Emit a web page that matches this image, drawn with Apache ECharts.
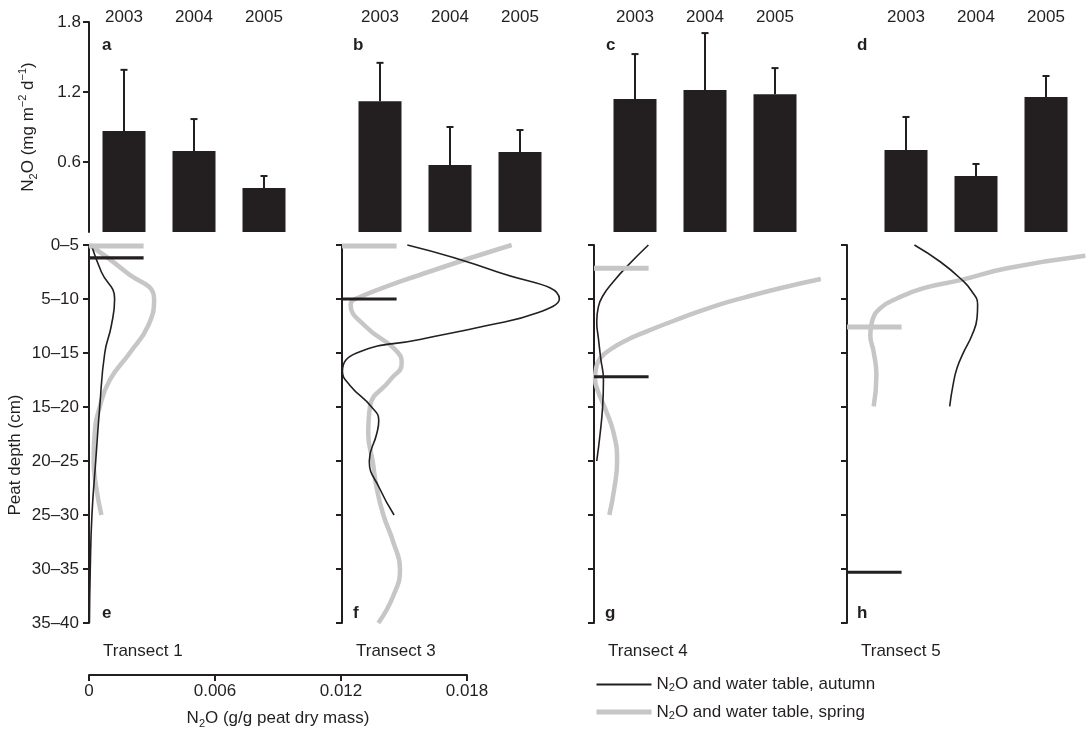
<!DOCTYPE html>
<html><head><meta charset="utf-8">
<script src="https://cdn.jsdelivr.net/npm/echarts@6/dist/echarts.min.js"></script>
<style>html,body{margin:0;padding:0;background:#fff}#c{width:1089px;height:733px}</style>
</head><body><div id="c"></div>
<script>
// ---------- data ----------
const years = ['2003', '2004', '2005'];
const fluxMeanT1 = [0.866, 0.694, 0.377];
const fluxUpperT1 = [1.39, 0.968, 0.48];
const fluxMeanT3 = [1.12, 0.574, 0.686];
const fluxUpperT3 = [1.45, 0.90, 0.874];
const fluxMeanT4 = [1.14, 1.217, 1.18];
const fluxUpperT4 = [1.525, 1.705, 1.405];
const fluxMeanT5 = [0.703, 0.48, 1.157];
const fluxUpperT5 = [0.986, 0.583, 1.337];
const fluxTicks = [0.6, 1.2, 1.8];

const depthLabels = ['0–5', '5–10', '10–15', '15–20', '20–25', '25–30', '30–35', '35–40'];
const n2oTicks = [0, 0.006, 0.012, 0.018];

// depth positions are in depth-class index units (0 = "0–5", 7 = "35–40")
const t1AutumnDepth = [0, 0.5, 1, 1.5, 2, 3, 4, 5, 6, 7];
const t1AutumnN2O = [0.00011, 0.00059, 0.00122, 0.00106, 0.00075, 0.00051, 0.00032, 0.00014, 0.00006, 0.00002];
const t1SpringDepth = [0, 0.5, 1, 1.5, 2, 2.5, 3, 3.5, 4, 4.5, 5];
const t1SpringN2O = [0.00003, 0.00176, 0.00310, 0.00281, 0.00194, 0.00099, 0.00051, 0.00027, 0.00022, 0.00035, 0.00059];

const t3AutumnDepth = [0, 0.5, 1, 1.25, 1.5, 1.75, 2, 2.34, 2.6, 3, 3.25, 3.5, 4, 4.5, 5];
const t3AutumnN2O = [0.00311, 0.00741, 0.01035, 0.00935, 0.0068, 0.00371, 0.0007, 0.00002, 0.00038, 0.00141, 0.00175, 0.00165, 0.0013, 0.00178, 0.00248];
const t3SpringDepth = [0, 0.5, 1, 1.1, 1.5, 2, 2.2, 2.5, 3, 3.5, 4, 4.5, 5, 5.5, 6, 6.5, 7];
const t3SpringN2O = [0.00808, 0.00411, 0.00062, 0.00041, 0.0011, 0.00268, 0.00284, 0.00229, 0.00133, 0.00125, 0.00146, 0.00165, 0.00197, 0.00244, 0.00276, 0.00244, 0.00173];

const t4AutumnDepth = [0, 0.4, 0.68, 0.93, 1.14, 1.42, 1.73, 2.1, 2.5, 3, 3.5, 4];
const t4AutumnN2O = [0.00259, 0.00156, 0.00092, 0.00044, 0.00021, 0.00013, 0.00021, 0.00032, 0.00045, 0.00041, 0.00029, 0.00013];
const t4SpringDepth = [0.63, 0.8, 0.96, 1.14, 1.36, 1.6, 1.79, 1.94, 2.1, 2.28, 2.47, 2.72, 3.02, 3.46, 4, 4.5, 5];
const t4SpringN2O = [0.0108, 0.00886, 0.00727, 0.00568, 0.0041, 0.00251, 0.0014, 0.00076, 0.00029, 0.0001, 0.00005, 0.0002, 0.00052, 0.00092, 0.0011, 0.00097, 0.00073];

const t5AutumnDepth = [0, 0.31, 0.62, 0.86, 1.11, 1.36, 1.67, 1.98, 2.28, 2.59, 2.99];
const t5AutumnN2O = [0.00321, 0.00444, 0.0054, 0.00595, 0.00622, 0.00619, 0.00595, 0.00556, 0.00524, 0.00505, 0.00489];
const t5SpringDepth = [0.2, 0.43, 0.65, 0.8, 0.99, 1.17, 1.42, 1.67, 1.98, 2.41, 2.99];
const t5SpringN2O = [0.01135, 0.00762, 0.0054, 0.00365, 0.00238, 0.00159, 0.00119, 0.00111, 0.00127, 0.0014, 0.00127];

const waterTableAutumn = [0.24, 1.0, 2.44, 6.06];
const waterTableSpring = [0.02, 0.02, 0.43, 1.52];

const transects = ['Transect 1', 'Transect 3', 'Transect 4', 'Transect 5'];
const topLetters = ['a', 'b', 'c', 'd'];
const bottomLetters = ['e', 'f', 'g', 'h'];

// ---------- layout / style ----------
const INK = '#231f20';
const GREY = '#c6c6c6';
const FONT = 'Liberation Sans';
const FS = 17;
const PX_PER_UNIT = 21000;       // horizontal scale of the profile panels
const WT_LEN = 0.0026;           // length of the water-table marker
const AUT = 'N2O and water table, autumn';
const SPR = 'N2O and water table, spring';

const topLefts = [89, 345, 600, 871];
const topWidth = 210;
const botLefts = [89, 342, 594, 847];
const botWidths = [250, 250, 250, 240];

const fluxMeans = [fluxMeanT1, fluxMeanT3, fluxMeanT4, fluxMeanT5];
const fluxUppers = [fluxUpperT1, fluxUpperT3, fluxUpperT4, fluxUpperT5];
const autumnProfiles = [[t1AutumnDepth, t1AutumnN2O], [t3AutumnDepth, t3AutumnN2O], [t4AutumnDepth, t4AutumnN2O], [t5AutumnDepth, t5AutumnN2O]];
const springProfiles = [[t1SpringDepth, t1SpringN2O], [t3SpringDepth, t3SpringN2O], [t4SpringDepth, t4SpringN2O], [t5SpringDepth, t5SpringN2O]];

function richSet(lh) {
  return {
    n: { fontSize: FS, fontFamily: FONT, color: INK, lineHeight: lh },
    sub: { fontSize: 11, fontFamily: FONT, color: INK, lineHeight: lh, verticalAlign: 'bottom' },
    sup: { fontSize: 11, fontFamily: FONT, color: INK, lineHeight: lh, verticalAlign: 'top' }
  };
}

const grid = [], xAxis = [], yAxis = [], series = [];

// top bar panels (grid 0..3)
for (let p = 0; p < 4; p++) {
  grid.push({ left: topLefts[p], width: topWidth, top: 22, height: 210 });
  xAxis.push({
    type: 'category', gridIndex: p, data: years, position: 'top',
    axisLine: { show: false }, axisTick: { show: false },
    axisLabel: { fontSize: FS, fontFamily: FONT, color: INK, margin: -4 }
  });
  yAxis.push({
    type: 'value', gridIndex: p, min: 0, max: 1.8, interval: 0.6, show: p === 0,
    splitLine: { show: false },
    axisLine: { show: true, onZero: false, lineStyle: { color: INK, width: 2 } },
    axisTick: { show: true, length: 6, customValues: fluxTicks, lineStyle: { color: INK, width: 2 } },
    axisLabel: { customValues: fluxTicks, fontSize: FS, fontFamily: FONT, color: INK, margin: 8,
      formatter: v => v.toFixed(1) },
    name: '{n|N}{sub|2}{n|O (mg m}{sup|−2}{n| d}{sup|−1}{n|)}',
    nameLocation: 'middle', nameRotate: 90, nameGap: 50,
    nameTextStyle: { rich: richSet(22) }
  });
  series.push({
    type: 'bar', xAxisIndex: p, yAxisIndex: p, data: fluxMeans[p], barWidth: 43,
    itemStyle: { color: INK }, silent: true
  });
  series.push({
    type: 'custom', xAxisIndex: p, yAxisIndex: p, silent: true,
    data: years.map((y, i) => [i, fluxMeans[p][i], fluxUppers[p][i]]),
    encode: { x: 0, y: [1, 2] },
    renderItem: (params, api) => {
      const a = api.coord([api.value(0), api.value(1)]);
      const b = api.coord([api.value(0), api.value(2)]);
      return { type: 'group', children: [
        { type: 'line', shape: { x1: a[0], y1: a[1], x2: b[0], y2: b[1] }, style: { stroke: INK, lineWidth: 2 } },
        { type: 'line', shape: { x1: b[0] - 3.5, y1: b[1], x2: b[0] + 3.5, y2: b[1] }, style: { stroke: INK, lineWidth: 2 } }
      ] };
    }
  });
}

// bottom profile panels (grid 4..7)
for (let p = 0; p < 4; p++) {
  const gi = 4 + p;
  grid.push({ left: botLefts[p], width: botWidths[p], top: 245, height: 378 });
  xAxis.push({ type: 'value', gridIndex: gi, min: 0, max: botWidths[p] / PX_PER_UNIT, show: false });
  yAxis.push({
    type: 'value', gridIndex: gi, min: 0, max: 7, interval: 1, inverse: true,
    splitLine: { show: false },
    axisLine: { show: true, onZero: false, lineStyle: { color: INK, width: 2 } },
    axisTick: { show: true, length: 6, lineStyle: { color: INK, width: 2 } },
    axisLabel: { show: p === 0, fontSize: FS, fontFamily: FONT, color: INK, margin: 10,
      formatter: v => depthLabels[v] }
  });
}
// shared N2O axis (grid 8)
grid.push({ left: 89, width: 378, top: 640, height: 35 });
xAxis.push({
  type: 'value', gridIndex: 8, min: 0, max: 0.018, interval: 0.006,
  splitLine: { show: false },
  axisLine: { show: true, lineStyle: { color: INK, width: 2 } },
  axisTick: { show: true, length: 6, lineStyle: { color: INK, width: 2 } },
  axisLabel: { fontSize: FS, fontFamily: FONT, color: INK, margin: 8,
    formatter: v => n2oTicks.includes(v) ? String(v) : String(+v.toFixed(3)) },
  name: '{n|N}{sub|2}{n|O (g/g peat dry mass)}', nameLocation: 'middle', nameGap: 32,
  nameTextStyle: { rich: richSet(22) }
});
yAxis.push({ type: 'value', gridIndex: 8, min: 0, max: 1, show: false });

const lineBase = { type: 'line', smooth: 0.5, symbol: 'none', silent: true, clip: false };
// spring curves first (drawn under)
for (let p = 0; p < 4; p++) {
  const [d, v] = springProfiles[p];
  series.push(Object.assign({}, lineBase, {
    name: SPR, xAxisIndex: 4 + p, yAxisIndex: 4 + p,
    data: d.map((dd, i) => [v[i], dd]),
    lineStyle: { color: GREY, width: 4.5, cap: 'butt' }, itemStyle: { color: GREY }
  }));
}
for (let p = 0; p < 4; p++) {
  const [d, v] = autumnProfiles[p];
  series.push(Object.assign({}, lineBase, {
    name: AUT, xAxisIndex: 4 + p, yAxisIndex: 4 + p,
    data: d.map((dd, i) => [v[i], dd]),
    lineStyle: { color: INK, width: 1.6 }, itemStyle: { color: INK }
  }));
}
// water-table markers
for (let p = 0; p < 4; p++) {
  series.push(Object.assign({}, lineBase, {
    name: SPR, xAxisIndex: 4 + p, yAxisIndex: 4 + p, smooth: false,
    data: [[0, waterTableSpring[p]], [WT_LEN, waterTableSpring[p]]],
    lineStyle: { color: GREY, width: 5, cap: 'butt' }, itemStyle: { color: GREY }
  }));
  series.push(Object.assign({}, lineBase, {
    name: AUT, xAxisIndex: 4 + p, yAxisIndex: 4 + p, smooth: false,
    data: [[0, waterTableAutumn[p]], [WT_LEN, waterTableAutumn[p]]],
    lineStyle: { color: INK, width: 3.2, cap: 'butt' }, itemStyle: { color: INK }
  }));
}

const graphic = [];
const topLetterX = [102, 353, 606, 857];
const botLetterX = [102, 353, 605, 857];
for (let p = 0; p < 4; p++) {
  graphic.push({ type: 'text', left: topLetterX[p], top: 37,
    style: { text: topLetters[p], font: `bold ${FS}px "${FONT}"`, fill: INK } });
  graphic.push({ type: 'text', left: botLetterX[p], top: 605,
    style: { text: bottomLetters[p], font: `bold ${FS}px "${FONT}"`, fill: INK } });
  graphic.push({ type: 'text', left: botLefts[p] + 14, top: 643,
    style: { text: transects[p], font: `${FS}px "${FONT}"`, fill: INK } });
}
graphic.push({ type: 'text', x: 15, y: 455, rotation: Math.PI / 2,
  style: { text: 'Peat depth (cm)', font: `${FS}px "${FONT}"`, fill: INK, align: 'center', verticalAlign: 'middle' } });

const option = {
  animation: false,
  backgroundColor: '#fff',
  textStyle: { fontFamily: FONT, color: INK },
  grid, xAxis, yAxis, series, graphic,
  legend: {
    left: 594, top: 676, orient: 'vertical', itemWidth: 55, itemHeight: 14, itemGap: 10,
    height: 60, selectedMode: false, padding: 0,
    data: [
      { name: AUT, lineStyle: { width: 2, color: INK }, itemStyle: { opacity: 0 } },
      { name: SPR, lineStyle: { width: 5, color: GREY }, itemStyle: { opacity: 0 } }
    ],
    formatter: name => name === AUT
      ? '{n|N}{sub|2}{n|O and water table, autumn}'
      : '{n|N}{sub|2}{n|O and water table, spring}',
    textStyle: { rich: richSet(18) }
  }
};
const chart = echarts.init(document.getElementById('c'), null, { renderer: 'canvas' });
chart.setOption(option);
</script>
</body></html>
